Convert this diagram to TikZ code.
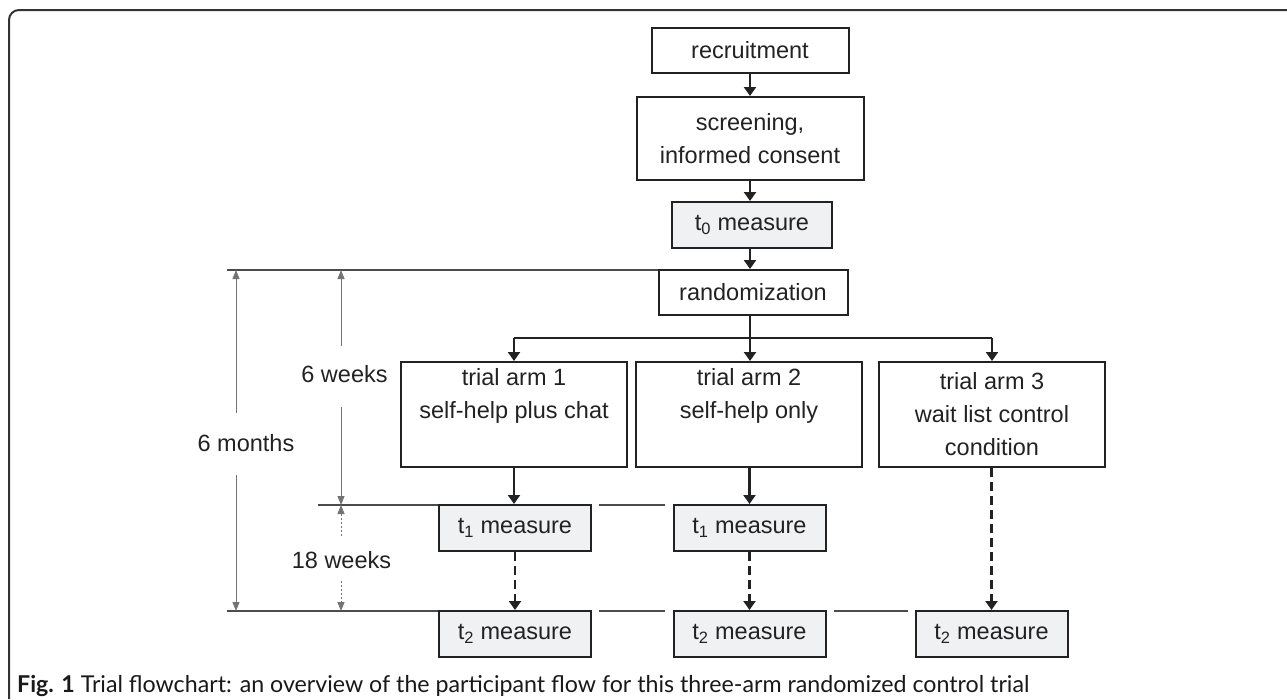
\documentclass[tikz,border=0pt]{standalone}
\usepackage{fontspec}
\setmainfont{Liberation Sans}
\newfontfamily\capfont{Lato}
\usetikzlibrary{arrows.meta,calc}
\definecolor{ink}{HTML}{222222}
\definecolor{measfill}{HTML}{F0F1F2}
\tikzset{dimtip/.tip={Triangle[width=7pt,length=9pt]}}
\begin{document}
\begin{tikzpicture}[x=1pt,y=-1pt,
  box/.style={draw=ink, line width=2pt, inner sep=0pt, align=center, text=ink,
              font=\fontsize{23.5}{33}\selectfont},
  meas/.style={box, fill=measfill, minimum width=152pt, minimum height=46pt},
  armbox/.style={box, minimum width=226pt, minimum height=105pt},
  flow/.style={draw=ink, line width=2.3pt, -{Triangle[width=12pt,length=9pt]}},
  dflow/.style={flow, dash pattern=on 9pt off 5pt},
  refline/.style={draw=black!70, line width=1.2pt},
  dimline/.style={draw=black!55, line width=0.9pt},
  dimlabel/.style={text=ink, font=\fontsize{23.5}{28}\selectfont, inner sep=0pt}
]
\useasboundingbox (0,0) rectangle (1287,699);

% frame
\draw[draw=black!80, line width=2pt, rounded corners=10pt] (1287,10) -- (9,10) -- (9,699);

% main column
\node[box, minimum width=197pt, minimum height=45pt] (rec) at (750,50.5) {recruitment};
\node[box, minimum width=227pt, minimum height=83pt] (scr) at (750,138.5) {screening,\\informed consent};
\node[box, fill=measfill, minimum width=160pt, minimum height=46pt] (t0) at (752,225) {t\textsubscript{0} measure};
\node[box, minimum width=189pt, minimum height=45pt] (rand) at (753,292.5) {randomization};

% arms
\node[armbox] (arm1) at (514,414.5) {trial arm 1\\self-help plus chat\\\strut};
\node[armbox] (arm2) at (749,414.5) {trial arm 2\\self-help only\\\strut};
\node[armbox] (arm3) at (992,414.5) {trial arm 3\\wait list control\\condition};

% measures
\node[meas] (t11) at (515,528) {t\textsubscript{1} measure};
\node[meas] (t12) at (749.5,528) {t\textsubscript{1} measure};
\node[meas] (t21) at (515,634) {t\textsubscript{2} measure};
\node[meas] (t22) at (749.5,634) {t\textsubscript{2} measure};
\node[meas] (t23) at (991.5,634) {t\textsubscript{2} measure};

% flow connectors
\draw[flow] (rec.south) -- (scr.north);
\draw[flow] (scr.south) -- (t0.north -| scr.south);
\draw[flow] (t0.south -| scr.south) -- (rand.north -| scr.south);
\coordinate (br) at (750,338);
\draw[draw=ink, line width=2.3pt] (rand.south -| br) -- (br);
\draw[draw=ink, line width=2.3pt] (br -| arm1.north) -- (br -| arm3.north);
\draw[flow] (br -| arm1.north) -- (arm1.north);
\draw[flow] (br) -- (arm2.north -| br);
\draw[flow] (br -| arm3.north) -- (arm3.north);
\draw[flow] (arm1.south) -- (t11.north -| arm1.south);
\draw[flow] (arm2.south -| t12.north) -- (t12.north);
\draw[dflow] (arm3.south -| t23.north) -- (t23.north);
\draw[dflow] (t11.south) -- (t21.north);
\draw[dflow] (t12.south) -- (t22.north);

% reference lines
\coordinate (r0) at (227,270);
\coordinate (r1) at (318,505);
\coordinate (r2) at (227,611);
\draw[refline] (r0) -- (rand.west |- r0);
\draw[refline] (r1) -- (t11.west |- r1);
\draw[refline] ($(t11.east |- r1)+(7,0)$) -- ($(t12.west |- r1)+(-8,0)$);
\draw[refline] (r2) -- (t21.west |- r2);
\draw[refline] ($(t21.east |- r2)+(7,0)$) -- ($(t22.west |- r2)+(-8,0)$);
\draw[refline] ($(t22.east |- r2)+(7,0)$) -- ($(t23.west |- r2)+(-7,0)$);

% dimension: 6 months
\node[dimlabel] (m6) at (246,443) {6 months};
\coordinate (m6a) at (236,270);
\coordinate (m6b) at (236,413);
\coordinate (m6c) at (236,475);
\coordinate (m6d) at (236,611);
\draw[dimline, {dimtip}-] (m6a) -- (m6b);
\draw[dimline, -{dimtip}] (m6c) -- (m6d);

% dimension: 6 weeks
\node[dimlabel] (w6) at (344.5,374) {6 weeks};
\coordinate (w6a) at (341,270);
\coordinate (w6b) at (341,346);
\coordinate (w6c) at (341,407);
\coordinate (w6d) at (341,505);
\draw[dimline, {dimtip}-] (w6a) -- (w6b);
\draw[dimline, -{dimtip}] (w6c) -- (w6d);

% dimension: 18 weeks
\node[dimlabel] (w18) at (341.5,560) {18 weeks};
\coordinate (w18a) at (341,505);
\coordinate (w18b) at (341,536);
\coordinate (w18c) at (341,581);
\coordinate (w18d) at (341,611);
\draw[dimline, dash pattern=on 2pt off 2pt, {dimtip}-] (w18a) -- (w18b);
\draw[dimline, dash pattern=on 2pt off 2pt, -{dimtip}] (w18c) -- (w18d);

% caption
\node[anchor=west, inner sep=0pt, text=black!90] (cap) at (17,686)
  {\capfont\fontsize{23.2}{26}\selectfont\textbf{Fig. 1} Trial flowchart: an overview of the participant flow for this three-arm randomized control trial};
\end{tikzpicture}
\end{document}
